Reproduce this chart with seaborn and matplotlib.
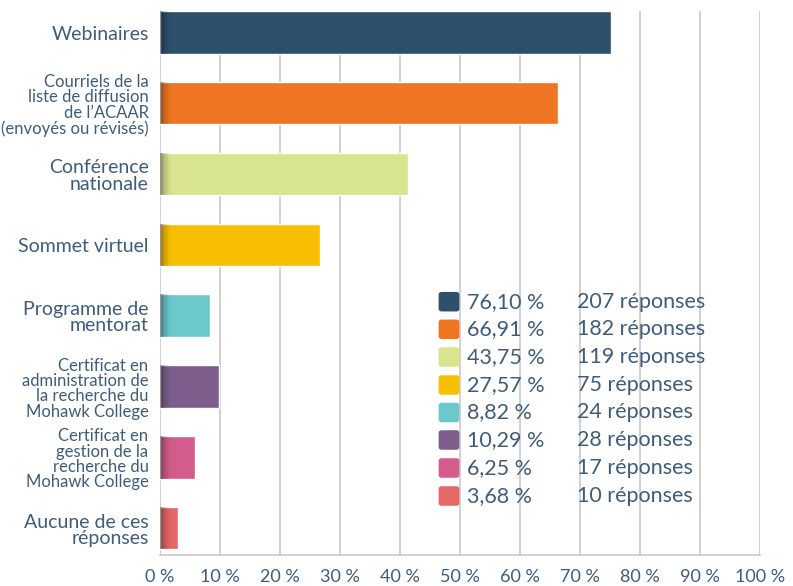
import matplotlib
matplotlib.use("Agg")
import matplotlib.pyplot as plt
from matplotlib.patches import FancyBboxPatch, Rectangle
import seaborn as sns
import pandas as pd

categories = [
    "Webinaires",
    "Courriels de la\nliste de diffusion\nde l’ACAAR\n(envoyés ou révisés)",
    "Conférence\nnationale",
    "Sommet virtuel",
    "Programme de\nmentorat",
    "Certificat en\nadministration de\nla recherche du\nMohawk College",
    "Certificat en\ngestion de la\nrecherche du\nMohawk College",
    "Aucune de ces\nréponses",
]
bar_values = [75.2, 66.3, 41.3, 26.7, 8.3, 9.8, 5.8, 3.0]
pct_labels = ["76,10 %", "66,91 %", "43,75 %", "27,57 %", "8,82 %", "10,29 %", "6,25 %", "3,68 %"]
resp_labels = ["207 réponses", "182 réponses", "119 réponses", "75 réponses",
               "24 réponses", "28 réponses", "17 réponses", "10 réponses"]
colors = ["#2e506b", "#ee7623", "#d9e48f", "#f8be00", "#6cc8cb", "#7d5e8c", "#d45c8c", "#e36866"]
label_sizes = [14, 12, 14, 14, 14, 12, 12, 14]
xticks = list(range(0, 101, 10))
xtick_labels = [f"{t} %" for t in xticks]

TEXT = "#405c79"
FONT = ["Lato", "DejaVu Sans"]
WEIGHT = "normal"

sns.set_theme(style="white")
plt.rcParams["font.family"] = FONT

W, H = 793, 586
fig = plt.figure(figsize=(W / 100, H / 100), dpi=100)
ax = fig.add_axes([160 / W, (H - 555) / H, 600 / W, (555 - 11) / H])

df = pd.DataFrame({"cat": categories, "val": bar_values})
sns.barplot(data=df, y="cat", x="val", hue="cat", palette=colors, orient="h",
            width=0.6, legend=False, ax=ax, saturation=1, zorder=3)

# shading at the base of each bar
for p in list(ax.patches):
    y0, h = p.get_y(), p.get_height()
    n = 12
    for i in range(n):
        a = 0.5 * (1 - i / n) ** 2
        ax.add_patch(Rectangle((-0.3 + i * 0.2, y0), 0.2, h, color="black",
                               alpha=a, lw=0, zorder=4))

ax.set_xlim(0, 100)
ax.set_ylim(7.38, -0.3)
ax.set_xticks(xticks)
ax.set_xticklabels(xtick_labels, color=TEXT, fontsize=13, fontweight=WEIGHT)
ax.set_yticks(range(len(categories)))
ax.set_yticklabels([])
ax.tick_params(axis="x", length=0, pad=10)
ax.tick_params(axis="y", length=0)
ax.set_xlabel("")
ax.set_ylabel("")
for t in xticks:
    ax.axvline(t, color="#cacaca", lw=1.2, zorder=1)
for s in ["top", "right", "left"]:
    ax.spines[s].set_visible(False)
ax.spines["bottom"].set_color("#cacaca")
ax.spines["bottom"].set_linewidth(1.2)

for i, (c, fs) in enumerate(zip(categories, label_sizes)):
    ax.text(-1.9, i + 0.03, c, ha="right", va="center", fontsize=fs, color=TEXT,
            fontweight=WEIGHT, linespacing=0.95, transform=ax.transData, clip_on=False)

# legend-like block
y_centers = [301.7, 329.3, 357, 385, 412.5, 440, 468, 496]
for yc, col, pl, rl in zip(y_centers, colors, pct_labels, resp_labels):
    fig.patches.append(FancyBboxPatch(((439 + 2) / W, (H - yc - 8) / H), 16 / W, 16 / H,
                                      boxstyle="round,pad=0.003,rounding_size=0.004",
                                      transform=fig.transFigure, color=col, lw=0,
                                      figure=fig))
    fig.text(467 / W, (H - yc) / H, pl, ha="left", va="center", fontsize=15.5,
             color=TEXT, fontweight=WEIGHT)
    fig.text(577 / W, (H - yc) / H, rl, ha="left", va="center", fontsize=15.5,
             color=TEXT, fontweight=WEIGHT)

fig.savefig("out.png", dpi=100)
